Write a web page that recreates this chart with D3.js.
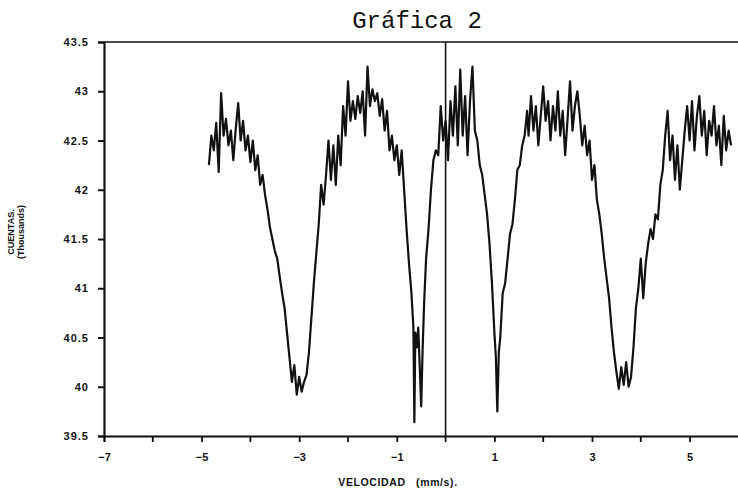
<!DOCTYPE html>
<html>
<head>
<meta charset="utf-8">
<script src="https://cdn.jsdelivr.net/npm/d3@7"></script>
<style>
  html, body { margin: 0; padding: 0; background: #fff; }
  svg { display: block; }
</style>
</head>
<body>
<svg id="chart" width="738" height="497"></svg>
<script>
// ---- data ----
const title = "Gráfica 2";
const yLabelLines = ["CUENTAS.", "(Thousands)"];
const xLabel = "VELOCIDAD   (mm/s).";
const yTicks = [39.5, 40, 40.5, 41, 41.5, 42, 42.5, 43, 43.5];
const yTickLabels = ["39.5", "40", "40.5", "41", "41.5", "42", "42.5", "43", "43.5"];
const xMajorTicks = [-7, -5, -3, -1, 1, 3, 5];
const xTickLabels = ["\u22127", "\u22125", "\u22123", "\u22121", "1", "3", "5"];
const xMinorTicks = [-6, -4, -2, 0, 2, 4];
const markerVelocity = 0;

const velocity = [
  -4.85,-4.80,-4.75,-4.70,-4.65,-4.60,-4.55,-4.50,-4.45,-4.40,-4.35,-4.30,-4.25,-4.20,-4.15,-4.10,-4.05,-4.00,-3.95,-3.90,-3.85,-3.80,
  -3.75,-3.70,-3.65,-3.60,-3.55,-3.50,-3.45,-3.40,-3.35,-3.30,-3.25,
  -3.20,-3.15,-3.10,-3.05,-3.00,-2.95,-2.90,-2.85,-2.80,-2.75,-2.70,-2.65,-2.60,-2.55,-2.50,-2.45,-2.40,
  -2.35,-2.30,-2.25,-2.20,-2.15,-2.10,-2.05,-2.00,-1.95,-1.90,-1.85,-1.80,-1.75,-1.70,-1.65,-1.60,-1.55,-1.50,-1.45,-1.40,-1.35,-1.30,-1.25,-1.20,-1.15,-1.10,-1.05,-1.00,-0.95,-0.90,
  -0.85,-0.80,-0.75,-0.70,-0.66,-0.64,-0.62,-0.59,-0.56,-0.53,-0.50,-0.47,-0.44,-0.40,-0.35,-0.30,-0.25,-0.20,-0.15,-0.10,-0.05,0.00,
  0.05,0.10,0.15,0.20,0.25,0.30,0.35,0.40,0.45,0.50,0.55,0.60,
  0.65,0.70,0.75,0.80,0.85,0.90,0.95,1.00,1.03,1.06,1.09,1.12,1.17,1.22,1.27,1.32,1.37,1.42,1.47,1.52,1.57,1.62,1.67,
  1.70,1.75,1.80,1.85,1.90,1.95,2.00,2.05,2.10,2.15,2.20,2.25,2.30,2.35,2.40,2.45,2.50,2.55,2.60,2.65,2.70,
  2.75,2.80,2.85,2.90,2.95,3.00,3.05,3.10,3.15,3.20,3.25,3.30,3.35,3.40,3.45,3.50,3.55,3.60,3.65,3.70,3.75,3.80,3.85,3.90,3.95,4.00,4.05,4.10,4.15,4.20,4.25,4.30,4.35,4.40,4.45,4.50,4.55,4.60,4.65,4.70,4.75,4.80,4.85,4.90,
  4.95,5.00,5.05,5.10,5.15,5.20,5.25,5.30,5.35,5.40,5.45,5.50,5.55,5.60,5.65,5.70,5.75,5.80,5.85
];
const counts = [
  42.25,42.55,42.40,42.68,42.18,42.98,42.55,42.72,42.45,42.60,42.30,42.62,42.88,42.50,42.70,42.40,42.55,42.28,42.50,42.20,42.35,42.05,
  42.15,41.95,41.80,41.62,41.50,41.38,41.30,41.12,40.95,40.80,40.55,
  40.30,40.05,40.22,39.92,40.10,39.95,40.05,40.12,40.35,40.70,41.05,41.35,41.65,42.05,41.85,42.15,42.50,
  42.10,42.45,42.05,42.55,42.25,42.85,42.55,43.10,42.70,42.90,42.72,42.95,42.78,43.00,42.55,43.25,42.85,43.02,42.90,42.98,42.75,42.92,42.60,42.80,42.40,42.55,42.30,42.45,42.15,42.40,
  42.00,41.60,41.25,40.95,40.60,39.64,40.55,40.40,40.60,40.20,39.80,40.40,40.85,41.30,41.60,42.00,42.30,42.40,42.35,42.85,42.50,42.70,
  42.30,42.90,42.55,43.05,42.45,43.22,42.55,42.95,42.35,42.90,43.25,42.60,
  42.50,42.25,42.15,41.95,41.75,41.45,41.05,40.55,40.30,39.75,40.35,40.50,40.95,41.05,41.30,41.55,41.65,41.90,42.20,42.25,42.45,42.55,42.80,
  42.55,42.95,42.60,42.85,42.45,42.75,43.05,42.70,42.90,42.50,42.85,42.60,43.00,42.55,42.80,42.35,42.72,43.10,42.60,42.85,43.00,
  42.75,42.45,42.65,42.35,42.50,42.10,42.25,41.90,41.75,41.55,41.30,41.10,40.90,40.60,40.35,40.15,39.98,40.20,40.02,40.25,40.00,40.10,40.40,40.80,41.00,41.30,40.90,41.25,41.45,41.60,41.50,41.75,41.70,42.05,42.20,42.55,42.80,42.30,42.55,42.10,42.45,42.00,42.30,42.60,
  42.85,42.50,42.90,42.40,42.75,42.95,42.55,42.80,42.35,42.70,42.55,42.85,42.45,42.65,42.25,42.75,42.40,42.60,42.45
];

// ---- drawing ----
const svg = d3.select("#chart");
const x = d3.scaleLinear().domain([-7, 6]).range([104, 738.4]);
const y = d3.scaleLinear().domain([39.5, 43.5]).range([436, 42]);

const ink = "#111";
const tickFont = "'Liberation Sans', Arial, sans-serif";

// Title
svg.append("text")
  .attr("x", 417).attr("y", 28)
  .attr("text-anchor", "middle")
  .attr("font-family", "'Liberation Mono', 'DejaVu Sans Mono', monospace")
  .attr("font-size", 24)
  .attr("fill", ink)
  .text(title);

// Top frame line
svg.append("line")
  .attr("x1", x(-7)).attr("x2", 738).attr("y1", y(43.5)).attr("y2", y(43.5))
  .attr("stroke", ink).attr("stroke-width", 1.6);

// Left axis
const yAxis = d3.axisLeft(y).tickValues(yTicks)
  .tickFormat((d, i) => yTickLabels[i]).tickSize(6).tickPadding(9);
const gy = svg.append("g").attr("transform", `translate(${x(-7)},0)`).call(yAxis);
gy.select(".domain").attr("stroke", ink).attr("stroke-width", 2.2);
gy.selectAll(".tick line").attr("stroke", ink).attr("stroke-width", 2);
gy.selectAll(".tick text")
  .attr("font-family", tickFont).attr("font-weight", "bold")
  .attr("font-size", 11).attr("letter-spacing", 1).attr("fill", ink);

// Bottom axis
const xAxis = d3.axisBottom(x).tickValues(xMajorTicks)
  .tickFormat((d, i) => xTickLabels[i]).tickSize(6).tickPadding(11);
const gx = svg.append("g").attr("transform", `translate(0,${y(39.5)})`).call(xAxis);
gx.select(".domain").attr("stroke", ink).attr("stroke-width", 1.8);
gx.selectAll(".tick line").attr("stroke", ink).attr("stroke-width", 1.8);
gx.selectAll(".tick text")
  .attr("font-family", tickFont).attr("font-weight", "bold")
  .attr("font-size", 11).attr("fill", ink);

svg.append("g").selectAll("line").data(xMinorTicks).join("line")
  .attr("x1", d => x(d)).attr("x2", d => x(d))
  .attr("y1", y(39.5)).attr("y2", y(39.5) + 6)
  .attr("stroke", ink).attr("stroke-width", 1.8);

// Vertical marker line at zero velocity
svg.append("line")
  .attr("x1", x(markerVelocity)).attr("x2", x(markerVelocity))
  .attr("y1", y(43.5)).attr("y2", y(39.5))
  .attr("stroke", ink).attr("stroke-width", 1.6);

// Spectrum
const pts = velocity.map((v, i) => [v, counts[i]]);
svg.append("path")
  .datum(pts)
  .attr("fill", "none")
  .attr("stroke", ink)
  .attr("stroke-width", 2.2)
  .attr("stroke-linejoin", "round")
  .attr("d", d3.line().x(d => x(d[0])).y(d => y(d[1])));

// Y label (rotated, two lines)
const yl = svg.append("text")
  .attr("transform", "translate(14,232) rotate(-90)")
  .attr("text-anchor", "middle")
  .attr("font-family", tickFont).attr("font-weight", "bold")
  .attr("font-size", 9).attr("fill", ink);
yl.selectAll("tspan").data(yLabelLines).join("tspan")
  .attr("x", 0).attr("dy", (d, i) => i === 0 ? 0 : 10)
  .text(d => d);

// X label
svg.append("text")
  .attr("x", 398).attr("y", 486)
  .attr("text-anchor", "middle")
  .attr("font-family", tickFont).attr("font-weight", "bold")
  .attr("font-size", 10.5).attr("letter-spacing", 0.6).attr("fill", ink)
  .attr("xml:space", "preserve")
  .style("white-space", "pre")
  .text(xLabel);
</script>
</body>
</html>
